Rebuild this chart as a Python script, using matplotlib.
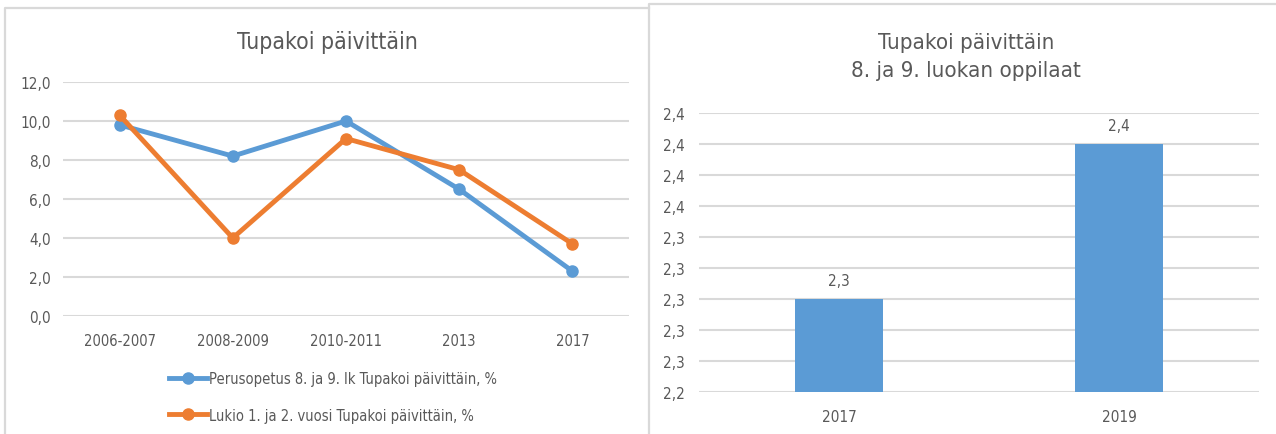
import matplotlib.pyplot as plt
from matplotlib.lines import Line2D
import numpy as np

plt.rcParams['font.family'] = ['DejaVu Sans']
plt.rcParams['font.stretch'] = 'condensed'

# left chart data
periods = ['2006-2007', '2008-2009', '2010-2011', '2013', '2017']
perus = [9.8, 8.2, 10.0, 6.5, 2.3]
lukio = [10.3, 4.0, 9.1, 7.5, 3.7]
perus_label = 'Perusopetus 8. ja 9. lk Tupakoi päivittäin, %'
lukio_label = 'Lukio 1. ja 2. vuosi Tupakoi päivittäin, %'

# right chart data
years = ['2017', '2019']
year_vals = [2.3, 2.4]

blue = '#5B9BD5'
orange = '#ED7D31'
txt = '#595959'
grid = '#D9D9D9'

W, H = 1276, 435
fig = plt.figure(figsize=(W / 100, H / 100), dpi=100)

def box(x0, y0, x1, y1):
    # pixel coords (top-left origin) -> figure fraction
    return [x0 / W, 1 - y1 / H, (x1 - x0) / W, (y1 - y0) / H]

def frame_line(xs, ys):
    fig.add_artist(Line2D([v / W for v in xs], [1 - v / H for v in ys],
                          transform=fig.transFigure, color=grid, lw=1.6))

# panel frames (only top and left edges are visible)
frame_line([4.5, 4.5, 649], [435, 9, 9])
frame_line([649.5, 649.5, 1276], [435, 5, 5])

# ---- left: line chart
ax = fig.add_axes(box(63, 83, 629, 317))
x = np.arange(len(periods))
ax.plot(x, perus, color=blue, lw=3.5, marker='o', ms=8, label=perus_label, zorder=3)
ax.plot(x, lukio, color=orange, lw=3.5, marker='o', ms=8, label=lukio_label, zorder=3)
ax.set_xlim(-0.5, len(periods) - 0.5)
ax.set_ylim(0, 12)
ax.set_yticks(np.arange(0, 12.1, 2))
ax.set_yticklabels([f'{v:.1f}'.replace('.', ',') for v in np.arange(0, 12.1, 2)])
ax.set_xticks(x)
ax.set_xticklabels(periods)
ax.grid(axis='y', color=grid, lw=1.5)
ax.set_axisbelow(True)
for s in ax.spines.values():
    s.set_visible(False)
ax.tick_params(length=0, colors=txt, labelsize=10.5)
ax.tick_params(axis='y', labelsize=11, pad=9)
ax.tick_params(axis='x', pad=12)
fig.text(327 / W, 1 - 43 / H, 'Tupakoi päivittäin', ha='center', va='center',
         fontsize=16.5, color=txt)
ax.legend(loc='upper left', bbox_to_anchor=(100 / 566, -0.212), frameon=False,
          fontsize=10.5, labelcolor=txt, handlelength=2.6, handletextpad=0.15,
          labelspacing=1.45, borderaxespad=0)

# ---- right: bar chart
bx = fig.add_axes(box(699, 114, 1259, 393))
xb = np.arange(len(years))
bars = bx.bar(xb, year_vals, width=0.314, color=blue, zorder=3)
bx.set_xlim(-0.5, len(years) - 0.5)
yt = np.linspace(2.24, 2.42, 10)
bx.set_ylim(yt[0], yt[-1])
bx.set_yticks(yt)
bx.set_yticklabels([f'{v:.1f}'.replace('.', ',') for v in yt])
bx.set_xticks(xb)
bx.set_xticklabels(years)
bx.grid(axis='y', color=grid, lw=1.5)
bx.set_axisbelow(True)
for s in bx.spines.values():
    s.set_visible(False)
bx.tick_params(length=0, colors=txt, labelsize=11)
bx.tick_params(axis='y', pad=10)
bx.tick_params(axis='x', pad=12)
for b, v in zip(bars, year_vals):
    bx.annotate(f'{v:.1f}'.replace('.', ','), (b.get_x() + b.get_width() / 2, v),
                xytext=(0, 13), textcoords='offset points', ha='center',
                va='center', fontsize=11, color=txt)
fig.text(966 / W, 1 - 57 / H, 'Tupakoi päivittäin\n8. ja 9. luokan oppilaat',
         ha='center', va='center', fontsize=16, color=txt, linespacing=1.45)

fig.savefig('out.png', dpi=100)
